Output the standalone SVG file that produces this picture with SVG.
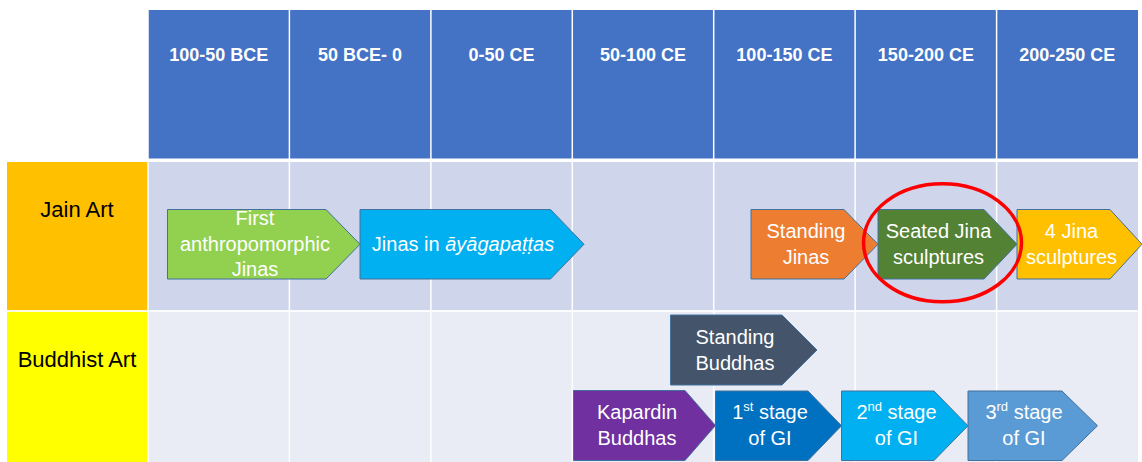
<svg xmlns="http://www.w3.org/2000/svg" width="1142" height="462" viewBox="0 0 1142 462">
<style>
.hdr{font-family:"Liberation Sans",Arial,sans-serif;font-size:18px;font-weight:bold;fill:#fff;text-anchor:middle}
.lbl{font-family:"Liberation Sans",Arial,sans-serif;font-size:22px;fill:#000;text-anchor:middle}
.nt{font-family:"Liberation Sans",Arial,sans-serif;font-size:20px;fill:#fff;text-anchor:middle}
.sh{stroke:#41719C;stroke-width:1}
.grid{stroke:#fff;stroke-width:1.5}
.sup{font-size:13px}
</style>
<rect width="1142" height="462" fill="#fff"/>
<g id="table">
  <rect x="148" y="10" width="990" height="148.5" fill="#4472C4"/>
  <rect x="7" y="162" width="141" height="148.5" fill="#FFC000"/>
  <rect x="7" y="311.5" width="141" height="150.5" fill="#FFFF00"/>
  <rect x="148" y="162" width="990" height="148.5" fill="#CFD5EA"/>
  <rect x="148" y="311.5" width="990" height="150.5" fill="#E9EBF5"/>
  <g class="grid">
    <line x1="148" y1="10" x2="148" y2="462"/>
    <line x1="289.4" y1="10" x2="289.4" y2="462"/>
    <line x1="430.9" y1="10" x2="430.9" y2="462"/>
    <line x1="572.3" y1="10" x2="572.3" y2="462"/>
    <line x1="713.7" y1="10" x2="713.7" y2="462"/>
    <line x1="855.1" y1="10" x2="855.1" y2="462"/>
    <line x1="996.6" y1="10" x2="996.6" y2="462"/>
    <line x1="7" y1="311" x2="1138" y2="311"/>
  </g>
  <g id="headers">
    <text class="hdr" x="218.7" y="61">100-50 BCE</text>
    <text class="hdr" x="360.1" y="61">50 BCE- 0</text>
    <text class="hdr" x="501.6" y="61">0-50 CE</text>
    <text class="hdr" x="643" y="61">50-100 CE</text>
    <text class="hdr" x="784.4" y="61">100-150 CE</text>
    <text class="hdr" x="925.9" y="61">150-200 CE</text>
    <text class="hdr" x="1067.3" y="61">200-250 CE</text>
  </g>
  <text class="lbl" x="77" y="217">Jain Art</text>
  <text class="lbl" x="77" y="367">Buddhist Art</text>
</g>
<g id="connectors"/>
<g id="first-jinas">
  <path class="sh" fill="#92D050" d="M167.5,209.5 H326 L360,244.25 L326,279 H167.5 Z"/>
  <text class="nt" x="255" y="225">First</text>
  <text class="nt" x="255" y="250.5">anthropomorphic</text>
  <text class="nt" x="255" y="276">Jinas</text>
</g>
<g id="jinas-ayagapattas">
  <path class="sh" fill="#00B0F0" d="M360,209.5 H550.5 L584,244.25 L550.5,279 H360 Z"/>
  <text class="nt" x="463" y="251">Jinas in <tspan font-style="italic">āyāgapaṭṭas</tspan></text>
</g>
<g id="standing-jinas">
  <path class="sh" fill="#ED7D31" d="M751,209.5 H844 L878,244.25 L844,279 H751 Z"/>
  <text class="nt" x="806" y="238">Standing</text>
  <text class="nt" x="806" y="264">Jinas</text>
</g>
<g id="seated-jina">
  <path class="sh" fill="#548235" d="M878,209.5 H984 L1017,244.25 L984,279 H878 Z"/>
  <text class="nt" x="938.5" y="238">Seated Jina</text>
  <text class="nt" x="938.5" y="264">sculptures</text>
</g>
<g id="four-jina">
  <path class="sh" fill="#FFC000" d="M1017,209.5 H1110 L1142,244.25 L1110,279 H1017 Z"/>
  <text class="nt" x="1071.5" y="238">4 Jina</text>
  <text class="nt" x="1071.5" y="264">sculptures</text>
</g>
<g id="standing-buddhas">
  <path class="sh" fill="#44546A" d="M670.5,315 H782 L817,350 L782,385 H670.5 Z"/>
  <text class="nt" x="735" y="343.5">Standing</text>
  <text class="nt" x="735" y="369.5">Buddhas</text>
</g>
<g id="kapardin">
  <path class="sh" fill="#7030A0" d="M573.5,390.5 H685 L715.5,425.5 L685,460.5 H573.5 Z"/>
  <text class="nt" x="637" y="418.5">Kapardin</text>
  <text class="nt" x="637" y="444.5">Buddhas</text>
</g>
<g id="gi-stage-1">
  <path class="sh" fill="#0070C0" d="M715.5,391 H808 L841.5,425.75 L808,460.5 H715.5 Z"/>
  <text class="nt" x="770" y="418.5">1<tspan class="sup" dy="-8">st</tspan><tspan dy="8"> stage</tspan></text>
  <text class="nt" x="770" y="444.5">of GI</text>
</g>
<g id="gi-stage-2">
  <path class="sh" fill="#00B0F0" d="M841.5,391 H934 L968,425.75 L934,460.5 H841.5 Z"/>
  <text class="nt" x="896.5" y="418.5">2<tspan class="sup" dy="-8">nd</tspan><tspan dy="8"> stage</tspan></text>
  <text class="nt" x="896.5" y="444.5">of GI</text>
</g>
<g id="gi-stage-3">
  <path class="sh" fill="#5B9BD5" d="M968,391 H1062 L1097.5,425.75 L1062,460.5 H968 Z"/>
  <text class="nt" x="1024" y="418.5">3<tspan class="sup" dy="-8">rd</tspan><tspan dy="8"> stage</tspan></text>
  <text class="nt" x="1024" y="444.5">of GI</text>
</g>
<g id="highlight">
  <ellipse cx="942.5" cy="242.8" rx="79" ry="59" fill="none" stroke="#FF0000" stroke-width="3.5"/>
</g>
</svg>
